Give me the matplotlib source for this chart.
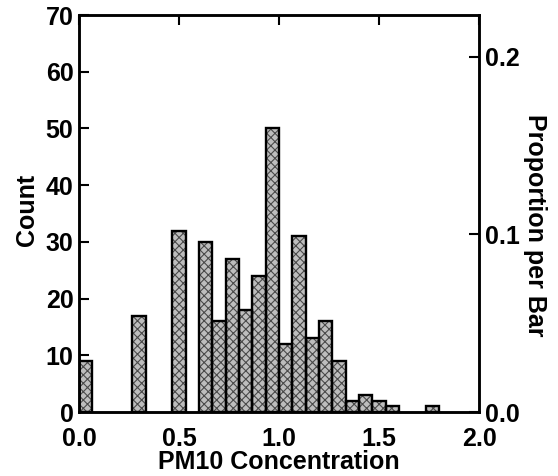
import numpy as np
import matplotlib
matplotlib.use('Agg')
import matplotlib.pyplot as plt

# histogram of PM10 concentration, bins of width 1/15
bin_width = 1 / 15
bin_start = [0.0, 0.2667, 0.4667, 0.6, 0.6667, 0.7333, 0.8, 0.8667, 0.9333,
             1.0, 1.0667, 1.1333, 1.2, 1.2667, 1.3333, 1.4, 1.4667, 1.5333, 1.7333]
counts = [9, 17, 32, 30, 16, 27, 18, 24, 50, 12, 31, 13, 16, 9, 2, 3, 2, 1, 1]
x_ticks = [0.0, 0.5, 1.0, 1.5, 2.0]
count_ticks = [0, 10, 20, 30, 40, 50, 60, 70]
prop_ticks = [0.0, 0.1, 0.2]

n_total = sum(counts)

plt.rcParams['font.family'] = ['Liberation Sans', 'DejaVu Sans']
plt.rcParams['font.weight'] = 'bold'
plt.rcParams['hatch.linewidth'] = 0.8

fig = plt.figure(figsize=(5.58, 4.76), dpi=100)
ax = fig.add_axes([79 / 558, 1 - 412 / 476, 400 / 558, 397 / 476])

# stippled fill, then black outline on top
ax.bar(bin_start, counts, width=bin_width, align='edge', color='#bdbdbd',
       edgecolor='#4a4a4a', hatch='xxxx', linewidth=0)
ax.bar(bin_start, counts, width=bin_width, align='edge', fill=False,
       edgecolor='black', linewidth=1.7)

ax.set_xlim(0, 2.0)
ax.set_ylim(0, 70)
ax.set_xticks(x_ticks)
ax.set_xticklabels(['%.1f' % v for v in x_ticks])
ax.set_yticks(count_ticks)
ax.tick_params(axis='x', direction='in', top=True, bottom=False, labelbottom=True,
               length=7, width=1.5, pad=11, labelsize=18)
ax.tick_params(axis='y', direction='in', length=7, width=1.5, pad=4, labelsize=18)
for lab in ax.get_xticklabels() + ax.get_yticklabels():
    lab.set_fontweight('bold')

ax.set_xlabel('PM10 Concentration', fontsize=18, fontweight='bold', labelpad=-1)
ax.set_ylabel('Count', fontsize=18, fontweight='bold')
ax.yaxis.set_label_coords(-0.1, 0.509)

ax2 = ax.twinx()
ax2.set_ylim(0, 70 / n_total)
ax2.set_yticks(prop_ticks)
ax2.set_yticklabels(['%.1f' % v for v in prop_ticks])
ax2.tick_params(axis='y', direction='in', length=7, width=1.5, pad=4, labelsize=18)
for lab in ax2.get_yticklabels():
    lab.set_fontweight('bold')
ax2.set_ylabel('Proportion per Bar', fontsize=18, fontweight='bold', rotation=270,
               va='center')
ax2.yaxis.set_label_coords(1.14, 0.47)

for a in (ax, ax2):
    for sp in a.spines.values():
        sp.set_linewidth(1.8)

fig.savefig('out.png', dpi=100)
